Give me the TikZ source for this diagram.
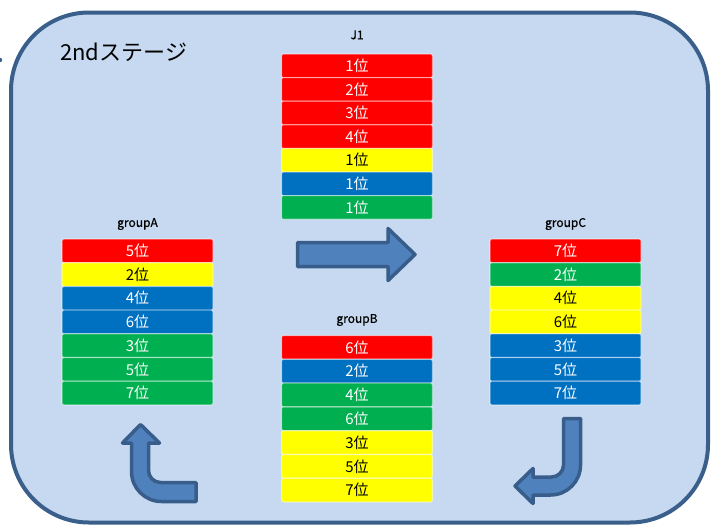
\documentclass[tikz,border=0pt]{standalone}
\usepackage{fontspec}
\setmainfont{Noto Sans CJK JP}
\newfontfamily\labelfont[FakeBold=0.6]{Noto Sans CJK JP}
\definecolor{bgblue}{HTML}{C6D9F0}
\definecolor{edgeblue}{HTML}{3A5F8B}
\definecolor{arrowfill}{HTML}{4F81BD}
\definecolor{arrowline}{HTML}{385D8A}
\definecolor{rk}{HTML}{FF0000}
\definecolor{yk}{HTML}{FFFF00}
\definecolor{bk}{HTML}{0070C0}
\definecolor{gk}{HTML}{00B050}
\begin{document}
\begin{tikzpicture}[x=1pt,y=-1pt,
  rankbox/.style={rectangle, minimum width=151pt, minimum height=23.7pt, inner sep=0pt,
    draw=white, draw opacity=0.45, line width=1.2pt, rounded corners=2pt,
    font=\fontsize{15pt}{15pt}\selectfont},
  grouplabel/.style={inner sep=0pt, font=\labelfont\fontsize{12pt}{12pt}\selectfont},
  bigarrow/.style={fill=arrowfill, draw=arrowline, line width=3.5pt, line join=round}]
\useasboundingbox (0,0) rectangle (711,525);
% stage frame
\draw[fill=bgblue, draw=edgeblue, line width=4pt, rounded corners=78pt] (11,12.5) rectangle (708,522.5);
\fill[edgeblue] (0,60) circle (2.2pt);
\node[anchor=west, inner sep=0pt, font=\fontsize{22pt}{22pt}\selectfont] (title) at (60,52) {2ndステージ};
% J1
\node[grouplabel] (lj) at (357,35) {J1};
\foreach \c/\tc/\rr [count=\i] in {rk/white/1,rk/white/2,rk/white/3,rk/white/4,yk/black/1,bk/white/1,gk/white/1}
  \node[rankbox, fill=\c, text=\tc] (j\i) at (357,{54+11.85+(\i-1)*23.6}) {\rr{}位};
% groupA
\node[grouplabel] (la) at (137.5,224) {groupA};
\foreach \c/\tc/\rr [count=\i] in {rk/white/5,yk/black/2,bk/white/4,bk/white/6,gk/white/3,gk/white/5,gk/white/7}
  \node[rankbox, fill=\c, text=\tc] (a\i) at (137.5,{239+11.85+(\i-1)*23.7}) {\rr{}位};
% groupB
\node[grouplabel] (lb) at (357,320) {groupB};
\foreach \c/\tc/\rr [count=\i] in {rk/white/6,bk/white/2,gk/white/4,gk/white/6,yk/black/3,yk/black/5,yk/black/7}
  \node[rankbox, fill=\c, text=\tc] (b\i) at (357,{335.5+11.85+(\i-1)*23.8}) {\rr{}位};
% groupC
\node[grouplabel] (lc) at (565.5,224) {groupC};
\foreach \c/\tc/\rr [count=\i] in {rk/white/7,gk/white/2,yk/black/4,yk/black/6,bk/white/3,bk/white/5,bk/white/7}
  \node[rankbox, fill=\c, text=\tc] (c\i) at (565.5,{239+11.85+(\i-1)*23.7}) {\rr{}位};
% right arrow
\draw[bigarrow] (297.5,242.5) -- (388,242.5) -- (388,228.5) -- (415,254.5) -- (388,280.5) -- (388,266.5) -- (297.5,266.5) -- cycle;
% up-turn arrow (groupB -> groupA)
\draw[bigarrow] (140.5,424.5) -- (159.5,443) -- (148.5,443) -- (148.5,470.5)
  .. controls (148.5,477.1) and (153.9,482.5) .. (160.5,482.5) -- (196,482.5) -- (196,501.5) -- (161.5,501.5)
  .. controls (144.9,501.5) and (131.5,488.1) .. (131.5,471.5) -- (131.5,443) -- (122.5,443) -- cycle;
% down-turn arrow (groupC -> groupB)
\draw[bigarrow] (563.5,418.5) -- (580.5,418.5) -- (580.5,465)
  .. controls (580.5,481.6) and (567.1,495) .. (550.5,495) -- (533,495) -- (533,503.5) -- (515,486)
  -- (533,468.5) -- (533,477) -- (551.5,477) .. controls (558.1,477) and (563.5,471.6) .. (563.5,465) -- cycle;
\end{tikzpicture}
\end{document}
